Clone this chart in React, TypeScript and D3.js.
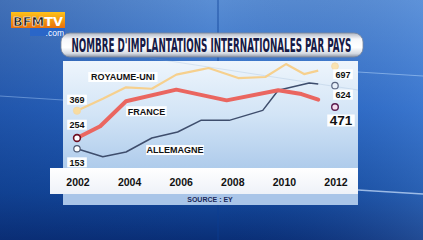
import React, { useLayoutEffect, useRef, useState } from "react";
import * as d3 from "d3";

// ---- data (the original chart is not drawn to a strict scale) ----
const tickYears = [2002, 2004, 2006, 2008, 2010, 2012];

const ukYears = [2002, 2003, 2003.9, 2004.9, 2005.85, 2006.8, 2007.1, 2008.25, 2009.3, 2010.1, 2010.8, 2011.35];
const ukValues = [420, 501, 579, 569, 665, 699, 710, 642, 649, 737, 669, 692];

const frYears = [2002, 2002.9, 2003.9, 2005.85, 2007.8, 2009.8, 2010.7, 2011.35];
const frValues = [234, 314, 484, 563, 490, 559, 533, 495];

const deYears = [2002, 2003, 2003.9, 2004.9, 2005.9, 2006.8, 2007.9, 2009.2, 2009.8, 2011.0, 2011.35];
const deValues = [161, 107, 139, 234, 275, 354, 354, 422, 559, 608, 601];

const endYear = 2012;
const endValues = [722, 590, 445]; // UK, DE, FR marker positions
const startLabels = ["369", "254", "153"]; // UK, FR, DE
const endLabels = ["697", "624", "471"]; // UK, DE, FR

const seriesNames = ["ROYAUME-UNI", "FRANCE", "ALLEMAGNE"];
const nameYears = [2003.78, 2004.69, 2005.8];
const nameValues = [649, 416, 152];

const title = "NOMBRE D'IMPLANTATIONS INTERNATIONALES PAR PAYS";
const source = "SOURCE : EY";

function FitText(props: {
  x: number;
  y: number;
  width: number;
  fontSize: number;
  fill?: string;
  family: string;
  children: React.ReactNode;
}) {
  const ref = useRef<SVGTextElement>(null);
  const [sx, setSx] = useState(0.5);
  useLayoutEffect(() => {
    if (ref.current) {
      const len = ref.current.getComputedTextLength();
      if (len > 0) setSx(props.width / len);
    }
  }, [props.width]);
  return (
    <g transform={`translate(${props.x},${props.y}) scale(${sx},1)`}>
      <text
        ref={ref}
        x={0}
        y={0}
        fontSize={props.fontSize}
        fill={props.fill}
        style={{ fontFamily: props.family, fontWeight: 700 }}
      >
        {props.children}
      </text>
    </g>
  );
}

export default function App() {
  const W = 423, H = 240;
  const x = d3.scaleLinear().domain([2002, 2012]).range([77, 335]);
  const y = d3.scaleLinear().domain([0, 800]).range([172.4, 54.8]);
  const line = d3
    .line<[number, number]>()
    .x((d) => x(d[0]))
    .y((d) => y(d[1]))
    .curve(d3.curveLinear);

  const uk = ukYears.map((yr, i) => [yr, ukValues[i]] as [number, number]);
  const fr = frYears.map((yr, i) => [yr, frValues[i]] as [number, number]);
  const de = deYears.map((yr, i) => [yr, deValues[i]] as [number, number]);

  const lab = { fontFamily: "'Liberation Sans', Arial, sans-serif", fontWeight: 700 } as const;

  const boxLabel = (cx: number, cy: number, text: string, fs: number, key: string, padX = 2, h = 10) => {
    const w = text.length * fs * 0.58 + padX * 2;
    return (
      <g key={key}>
        <rect x={cx - w / 2} y={cy - h / 2} width={w} height={h} fill="#ffffff" opacity={0.95} />
        <text x={cx} y={cy + fs * 0.36} textAnchor="middle" fontSize={fs} fill="#111" style={lab}>
          {text}
        </text>
      </g>
    );
  };

  const ukStart = [x(ukYears[0]), y(ukValues[0])];
  const frStart = [x(frYears[0]), y(frValues[0])];
  const deStart = [x(deYears[0]), y(deValues[0])];
  const ex = x(endYear);
  const condensed = "'DejaVu Sans Condensed', 'Liberation Sans Narrow', sans-serif";

  return (
    <svg
      width={W}
      height={H}
      viewBox={`0 0 ${W} ${H}`}
      style={{ position: "fixed", left: 0, top: 0, display: "block" }}
    >
      <defs>
        <linearGradient id="bg" x1="0" y1="0" x2="0" y2="1">
          <stop offset="0" stopColor="#5a8ed4" />
          <stop offset="0.45" stopColor="#2b69c6" />
          <stop offset="0.8" stopColor="#144ba0" />
          <stop offset="1" stopColor="#0a2f77" />
        </linearGradient>
        <linearGradient id="bgH" x1="0" y1="0" x2="1" y2="0">
          <stop offset="0" stopColor="#0a2a70" stopOpacity="0.3" />
          <stop offset="0.5" stopColor="#0a2a70" stopOpacity="0" />
          <stop offset="1" stopColor="#6aa0ea" stopOpacity="0.25" />
        </linearGradient>
        <linearGradient id="panel" x1="0" y1="0" x2="0" y2="1">
          <stop offset="0" stopColor="#eef5fc" />
          <stop offset="0.5" stopColor="#d2e4f6" />
          <stop offset="1" stopColor="#aecbeb" />
        </linearGradient>
        <linearGradient id="banner" x1="0" y1="0" x2="0" y2="1">
          <stop offset="0" stopColor="#aeb6c4" />
          <stop offset="0.25" stopColor="#f6f7fa" />
          <stop offset="0.6" stopColor="#ffffff" />
          <stop offset="0.85" stopColor="#d6dbe3" />
          <stop offset="1" stopColor="#8e97a8" />
        </linearGradient>
        <linearGradient id="logo" x1="0" y1="0" x2="0" y2="1">
          <stop offset="0" stopColor="#ffc21a" />
          <stop offset="1" stopColor="#e8700a" />
        </linearGradient>
        <linearGradient id="strip" x1="0" y1="0" x2="0" y2="1">
          <stop offset="0" stopColor="#ffffff" />
          <stop offset="1" stopColor="#eef2f8" />
        </linearGradient>
      </defs>

      {/* background */}
      <rect x={0} y={0} width={W} height={H} fill="url(#bg)" />
      <rect x={0} y={0} width={W} height={H} fill="url(#bgH)" />
      <line x1={218} y1={0} x2={218} y2={H} stroke="#0d3f94" strokeWidth={1.2} opacity={0.6} />
      <line x1={0} y1={96} x2={63} y2={100} stroke="#9cc2f2" strokeWidth={1} opacity={0.5} />
      <line x1={358} y1={72} x2={423} y2={76} stroke="#a8ccf6" strokeWidth={1} opacity={0.6} />
      <line x1={358} y1={190} x2={423} y2={194} stroke="#cfe4ff" strokeWidth={1.5} opacity={0.7} />

      {/* logo */}
      <rect x={11} y={12} width={54} height={16} fill="url(#logo)" />
      <FitText x={13} y={25.5} width={50} fontSize={13} family={condensed}>
        <tspan fill="#1a1a1a" stroke="#ffffff" strokeWidth={0.5}>BFM</tspan>
        <tspan fill="#ffffff">TV</tspan>
      </FitText>
      <rect x={30} y={28} width={35} height={8} fill="#2a66c8" />
      <text x={64} y={35.5} textAnchor="end" fontSize={8.5} fill="#ffffff" style={{ fontFamily: "'Liberation Sans', Arial, sans-serif" }}>
        .com
      </text>

      {/* title banner */}
      <rect x={61} y={33} width={302} height={24} rx={9} fill="url(#banner)" stroke="#7f899b" strokeWidth={0.8} />
      <FitText x={71.5} y={52} width={280} fontSize={19} fill="#161a46" family={condensed}>
        {title}
      </FitText>

      {/* panel */}
      <rect x={63} y={61} width={295} height={108} fill="url(#panel)" />
      <line x1={150} y1={58} x2={358} y2={90} stroke="#7aa0c8" strokeWidth={0.6} opacity={0.35} />
      {/* source strip */}
      <rect x={63} y={193} width={295} height={12} fill="#a9c5e8" />
      <text x={210} y={202} textAnchor="middle" fontSize={7} fill="#1c2a5a" style={lab}>
        {source}
      </text>
      {/* x-axis strip */}
      <rect x={50} y={168} width={308} height={26} fill="url(#strip)" />
      {tickYears.map((t) => (
        <text key={t} x={x(t) + 1} y={186} textAnchor="middle" fontSize={10.5} fill="#111" style={lab}>
          {t}
        </text>
      ))}

      {/* lines */}
      <path d={line(uk) || ""} fill="none" stroke="#f6d08e" strokeWidth={2.2} strokeLinejoin="round" />
      <path d={line(de) || ""} fill="none" stroke="#3e4d6c" strokeWidth={1.5} strokeLinejoin="round" />
      <path d={line(fr) || ""} fill="none" stroke="#ea6660" strokeWidth={4} strokeLinejoin="round" strokeLinecap="round" />

      {/* start markers */}
      <circle cx={ukStart[0]} cy={ukStart[1]} r={3.6} fill="#f8dca0" stroke="#f2d9a8" strokeWidth={1} />
      <circle cx={frStart[0]} cy={frStart[1]} r={3.4} fill="#ffffff" stroke="#6e0f22" strokeWidth={1.6} />
      <circle cx={deStart[0]} cy={deStart[1]} r={3.2} fill="#ffffff" stroke="#4a5670" strokeWidth={1.2} />

      {/* end markers */}
      <circle cx={ex} cy={y(endValues[0])} r={3.4} fill="#fbe3b0" stroke="#f3dcae" strokeWidth={1} />
      <circle cx={ex} cy={y(endValues[1])} r={3.2} fill="#e8f0fa" stroke="#5a6580" strokeWidth={1.2} />
      <circle cx={ex} cy={y(endValues[2])} r={3.3} fill="#f4dcef" stroke="#5a1a4e" strokeWidth={1.4} />

      {/* start value labels */}
      {boxLabel(ukStart[0], ukStart[1] - 11, startLabels[0], 9, "s0")}
      {boxLabel(frStart[0], frStart[1] - 13.3, startLabels[1], 9, "s1")}
      {boxLabel(deStart[0], deStart[1] + 13.6, startLabels[2], 9, "s2")}

      {/* end value labels */}
      {boxLabel(ex + 8, y(endValues[0]) + 8, endLabels[0], 9, "e0")}
      {boxLabel(ex + 8, y(endValues[1]) + 9, endLabels[1], 9, "e1")}
      {boxLabel(ex + 6, y(endValues[2]) + 13.5, endLabels[2], 13.5, "e2", 2, 12)}

      {/* series names */}
      {seriesNames.map((n, i) => (
        <g key={n}>
          <rect
            x={x(nameYears[i]) - (n.length * 9 * 0.64) / 2 - 3}
            y={y(nameValues[i]) - 5}
            width={n.length * 9 * 0.64 + 6}
            height={10}
            fill="#ffffff"
            opacity={0.95}
          />
          <text x={x(nameYears[i])} y={y(nameValues[i]) + 3.3} textAnchor="middle" fontSize={9} fill="#111" style={lab}>
            {n}
          </text>
        </g>
      ))}
    </svg>
  );
}
